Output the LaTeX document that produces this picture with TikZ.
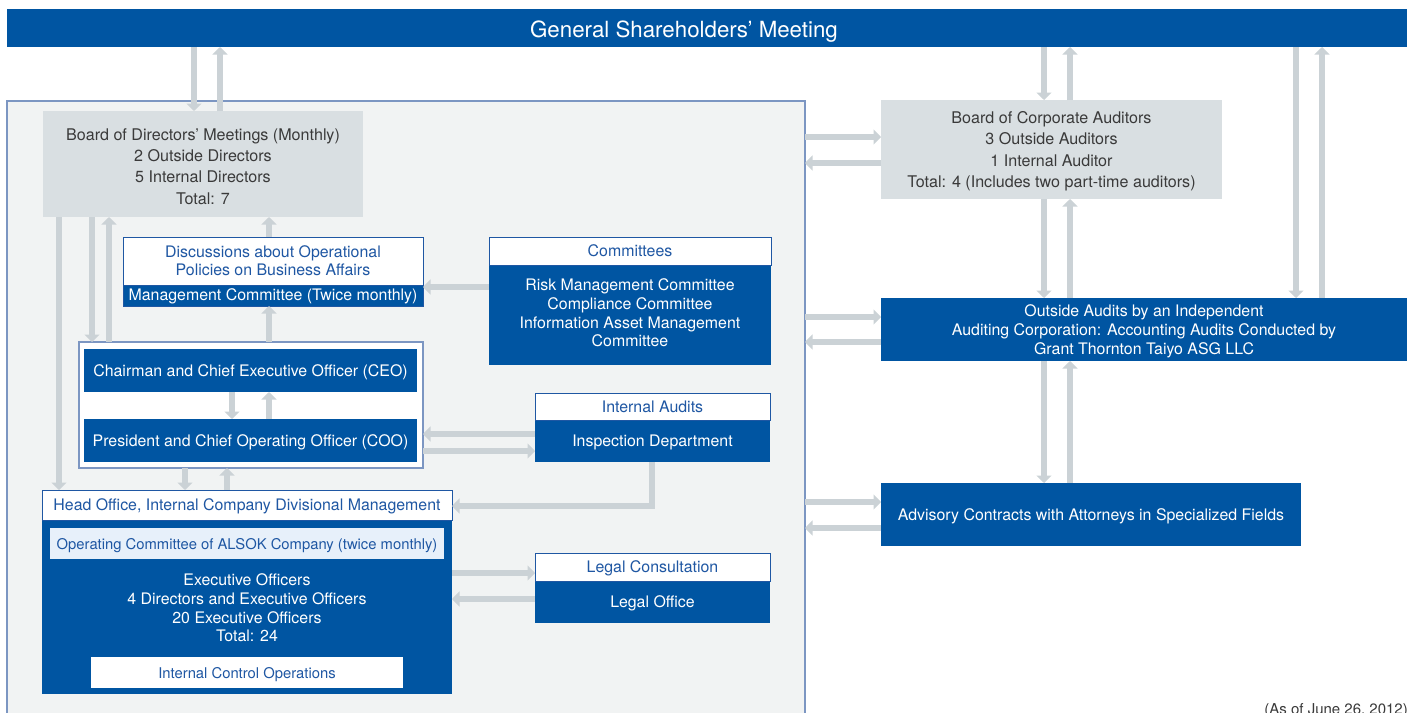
\documentclass[tikz,border=0pt]{standalone}
\usepackage{fontspec}
\setmainfont{TeX Gyre Heros}
\usetikzlibrary{arrows.meta}

\definecolor{corpblue}{HTML}{0055A2}
\definecolor{headblue}{HTML}{1F57A3}
\definecolor{framegray}{HTML}{F1F3F3}
\definecolor{frameline}{HTML}{7C96C2}
\definecolor{boxgray}{HTML}{D9DFE2}
\definecolor{arrowgray}{HTML}{CBD2D6}
\definecolor{textgray}{HTML}{3A3A3A}
\definecolor{paleblue}{HTML}{E7F0FA}

\newcommand{\bodyfont}{\fontsize{15.9}{19}\selectfont}

\tikzset{
  box/.style={anchor=north west, inner sep=0pt, outer sep=0pt, align=center, text depth=0pt},
  bluebox/.style={box, fill=corpblue, text=white, font=\bodyfont},
  graybox/.style={box, fill=boxgray, text=textgray, font=\fontsize{16.1}{21.3}\selectfont},
  headbox/.style={box, fill=white, draw=headblue, line width=0.8pt, text=headblue, font=\bodyfont},
  arr/.style={draw=arrowgray, line width=6pt, -{Triangle[width=15pt,length=7.5pt]}}
}

\begin{document}
\begin{tikzpicture}[x=1pt,y=-1pt]
\useasboundingbox (0,0) rectangle (1415,712);
\clip (0,0) rectangle (1415,712);
\fill[white] (0,0) rectangle (1415,712);

% shareholders' meeting bar and its title
\node[box, fill=corpblue, minimum width=1400pt, minimum height=38pt] (gsm) at (7,9) {};
\node[inner sep=0pt, text depth=0pt, text=white, font=\fontsize{22.3}{24}\selectfont] (gsmtitle) at (684,29)
  {General Shareholders’ Meeting};

% company frame
\node[box, fill=framegray, draw=frameline, line width=1.2pt,
      minimum width=798pt, minimum height=660pt] (grp) at (7,101) {};

% board of directors
\node[graybox, text height=80pt, minimum width=320pt, minimum height=106pt] (bod) at (43,111)
  {Board of Directors’ Meetings (Monthly)\\2 Outside Directors\\5 Internal Directors\\Total: 7};

% board of corporate auditors
\node[graybox, minimum width=341pt, minimum height=99pt] (bca) at (881,100)
  {Board of Corporate Auditors\\3 Outside Auditors\\1 Internal Auditor\\Total: 4 (Includes two part-time auditors)};

% outside audits
\node[bluebox, minimum width=526pt, minimum height=63pt] (oa) at (881,298)
  {Outside Audits by an Independent\\Auditing Corporation: Accounting Audits Conducted by\\Grant Thornton Taiyo ASG LLC};

% advisory contracts
\node[bluebox, minimum width=420pt, minimum height=63pt] (adv) at (881,483)
  {Advisory Contracts with Attorneys in Specialized Fields};

% management committee
\node[bluebox, minimum width=300pt, minimum height=22pt] (mcb) at (123,284)
  {Management Committee (Twice monthly)};
\node[headbox, font=\fontsize{15.9}{18}\selectfont, minimum width=300pt, minimum height=48pt] (mch) at (123,237)
  {Discussions about Operational\\Policies on Business Affairs};
\draw[headblue, line width=0.8pt] (mch.north west) rectangle (mcb.south east);

% committees
\node[bluebox, text depth=4pt, font=\fontsize{15.9}{18.7}\selectfont, minimum width=282pt, minimum height=100pt] (cmb) at (489,265)
  {Risk Management Committee\\Compliance Committee\\Information Asset Management\\Committee};
\node[headbox, minimum width=282pt, minimum height=28pt] (cmh) at (489,237) {Committees};

% top executives
\node[box, fill=white, draw=frameline, line width=1.2pt, minimum width=344pt, minimum height=126pt] (exf) at (79,342) {};
\node[bluebox, minimum width=333pt, minimum height=43pt] (ceo) at (84,349)
  {Chairman and Chief Executive Officer (CEO)};
\node[bluebox, minimum width=333pt, minimum height=43pt] (coo) at (84,419)
  {President and Chief Operating Officer (COO)};

% internal audits
\node[bluebox, minimum width=235pt, minimum height=42pt] (iab) at (535,420) {Inspection Department};
\node[headbox, minimum width=235pt, minimum height=27pt] (iah) at (535,393) {Internal Audits};

% legal consultation
\node[bluebox, minimum width=235pt, minimum height=42pt] (lgb) at (535,581) {Legal Office};
\node[headbox, minimum width=235pt, minimum height=28pt] (lgh) at (535,553) {Legal Consultation};

% head office
\node[bluebox, minimum width=410pt, minimum height=174pt] (hob) at (42,520) {};
\node[headbox, minimum width=410pt, minimum height=30pt] (hoh) at (42,490)
  {Head Office, Internal Company Divisional Management};
\node[box, fill=paleblue, text=headblue, font=\fontsize{14.8}{17}\selectfont,
      minimum width=394pt, minimum height=31pt] (opc) at (50,528)
  {Operating Committee of ALSOK Company (twice monthly)};
\node[align=center, text=white, inner sep=0pt, font=\fontsize{15.9}{18.7}\selectfont] (exo) at (247,608)
  {Executive Officers\\4 Directors and Executive Officers\\20 Executive Officers\\Total: 24};
\node[box, fill=white, text=headblue, font=\fontsize{14.8}{17}\selectfont,
      minimum width=312pt, minimum height=31pt] (ico) at (91,657) {Internal Control Operations};

% date note
\node[anchor=base east, inner sep=0pt, text=textgray, font=\fontsize{15}{17}\selectfont] (date) at (1408,714)
  {(As of June 26, 2012)};

% column and row guides for the connectors
\coordinate (c194) at (194,0);  \coordinate (c220) at (220,0);
\coordinate (c1044) at (1044,0); \coordinate (c1070) at (1070,0);
\coordinate (c1296) at (1296,0); \coordinate (c1322) at (1322,0);
\coordinate (c59) at (59,0);    \coordinate (c92) at (92,0);
\coordinate (c109) at (109,0);  \coordinate (c269) at (269,0);
\coordinate (c232) at (232,0);  \coordinate (c185) at (185,0);
\coordinate (c227) at (227,0);  \coordinate (c652) at (652,0);
\coordinate (r137) at (0,137);  \coordinate (r163) at (0,163);
\coordinate (r317) at (0,317);  \coordinate (r342) at (0,342);
\coordinate (r502) at (0,502);  \coordinate (r528) at (0,528);
\coordinate (r287) at (0,287);  \coordinate (r434) at (0,434);
\coordinate (r451) at (0,451);  \coordinate (r506) at (0,506);
\coordinate (r573) at (0,573);  \coordinate (r599) at (0,599);

% shareholders' meeting links
\draw[arr] (gsm.south -| c194) -- (bod.north -| c194);
\draw[arr] (bod.north -| c220) -- (gsm.south -| c220);
\draw[arr] (gsm.south -| c1044) -- (bca.north -| c1044);
\draw[arr] (bca.north -| c1070) -- (gsm.south -| c1070);
\draw[arr] (gsm.south -| c1296) -- (oa.north -| c1296);
\draw[arr] (oa.north -| c1322) -- (gsm.south -| c1322);

% auditors and outside parties
\draw[arr] (bca.south -| c1044) -- (oa.north -| c1044);
\draw[arr] (oa.north -| c1070) -- (bca.south -| c1070);
\draw[arr] (oa.south -| c1044) -- (adv.north -| c1044);
\draw[arr] (adv.north -| c1070) -- (oa.south -| c1070);
\draw[arr] (grp.east |- r137) -- (bca.west |- r137);
\draw[arr] (bca.west |- r163) -- (grp.east |- r163);
\draw[arr] (grp.east |- r317) -- (oa.west |- r317);
\draw[arr] (oa.west |- r342) -- (grp.east |- r342);
\draw[arr] (grp.east |- r502) -- (adv.west |- r502);
\draw[arr] (adv.west |- r528) -- (grp.east |- r528);

% internal links
\draw[arr] (bod.south -| c59) -- (hoh.north -| c59);
\draw[arr] (bod.south -| c92) -- (exf.north -| c92);
\draw[arr] (exf.north -| c109) -- (bod.south -| c109);
\draw[arr] (mch.north -| c269) -- (bod.south -| c269);
\draw[arr] (exf.north -| c269) -- (mcb.south -| c269);
\draw[arr] (cmb.west |- r287) -- (mcb.east |- r287);
\draw[arr] (ceo.south -| c232) -- (coo.north -| c232);
\draw[arr] (coo.north -| c269) -- (ceo.south -| c269);
\draw[arr] (iab.west |- r434) -- (exf.east |- r434);
\draw[arr] (exf.east |- r451) -- (iab.west |- r451);
\draw[arr] (exf.south -| c185) -- (hoh.north -| c185);
\draw[arr] (hoh.north -| c227) -- (exf.south -| c227);
\draw[arr] (iab.south -| c652) -- (c652 |- r506) -- (hoh.east |- r506);
\draw[arr] (hob.east |- r573) -- (lgh.west |- r573);
\draw[arr] (lgb.west |- r599) -- (hob.east |- r599);
\end{tikzpicture}
\end{document}
